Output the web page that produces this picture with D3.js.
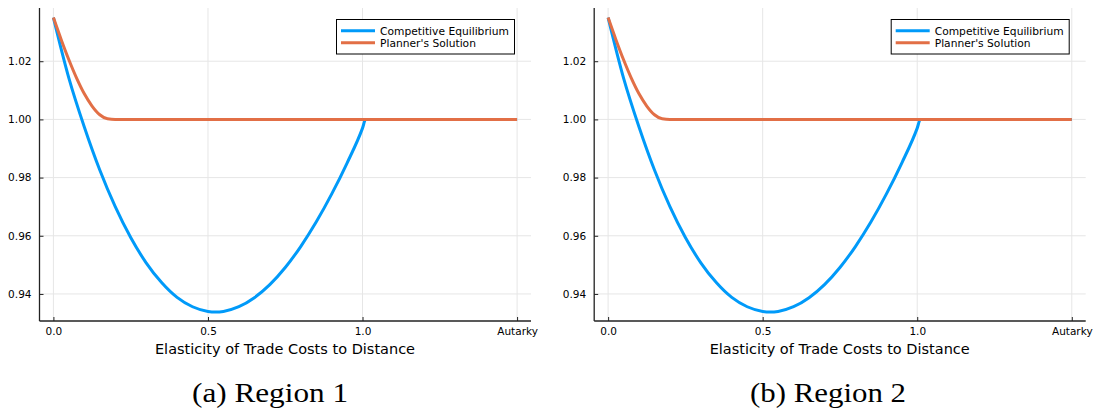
<!DOCTYPE html>
<html>
<head>
<meta charset="utf-8">
<script src="https://cdn.jsdelivr.net/npm/d3@7"></script>
<style>
  body { margin: 0; background: #fff; }
  svg { display: block; }
</style>
</head>
<body>
<svg></svg>
<script>
// elasticity grid (Autarky is placed at 1.5 on the axis)
var elasticity1 = [0, 0.05, 0.1, 0.15, 0.2, 0.25, 0.3, 0.35, 0.4, 0.45, 0.5, 0.524, 0.55, 0.6, 0.65, 0.7, 0.75, 0.8, 0.85, 0.9, 0.95, 1.0, 1.01, 1.5];
var competitive1 = [1.035, 1.0142, 0.9974, 0.9826, 0.9700, 0.9594, 0.9507, 0.9439, 0.9388, 0.9356, 0.9340, 0.9338, 0.9340, 0.9356, 0.9387, 0.9432, 0.9491, 0.9563, 0.9647, 0.9743, 0.9850, 0.9970, 1.0, 1.0];
var elasticity2 = [0, 0.025, 0.05, 0.075, 0.1, 0.125, 0.15, 0.175, 0.2, 1.5];
var planner1 = [1.035, 1.0275, 1.0205, 1.0142, 1.0088, 1.0046, 1.0016, 1.0002, 1.0, 1.0];

var competitive2 = [1.035, 1.0142, 0.9974, 0.9826, 0.9700, 0.9594, 0.9507, 0.9439, 0.9388, 0.9356, 0.9340, 0.9338, 0.9340, 0.9356, 0.9387, 0.9432, 0.9491, 0.9563, 0.9647, 0.9743, 0.9850, 0.9970, 1.0, 1.0];
var planner2 = [1.035, 1.0275, 1.0205, 1.0142, 1.0088, 1.0046, 1.0016, 1.0002, 1.0, 1.0];

var xTicks = [0, 0.5, 1.0, 1.5];
var xTickLabels = ["0.0", "0.5", "1.0", "Autarky"];
var yTicks = [0.94, 0.96, 0.98, 1.00, 1.02];
var seriesNames = ["Competitive Equilibrium", "Planner's Solution"];
var captions = ["(a) Region 1", "(b) Region 2"];

var svg = d3.select("svg")
    .attr("width", 1093)
    .attr("height", 413);

var blue = "#009af9";
var orange = "#e26f46";
var fontSans = "DejaVu Sans";

var x = d3.scaleLinear().domain([-0.045, 1.545]).range([39.5, 531]);
var y = d3.scaleLinear().domain([0.9307, 1.0383]).range([321, 8]);

function drawPanel(offset, ce, ps, caption, capX) {
    var g = svg.append("g").attr("transform", "translate(" + offset + ",0)");

    // grid
    g.append("g").selectAll("line")
        .data(xTicks)
        .enter()
        .append("line")
        .attr("x1", d => x(d)).attr("x2", d => x(d))
        .attr("y1", 8).attr("y2", 321)
        .attr("stroke", "#e6e6e6").attr("stroke-width", 1);
    g.append("g").selectAll("line")
        .data(yTicks)
        .enter()
        .append("line")
        .attr("x1", 39.5).attr("x2", 531)
        .attr("y1", d => y(d)).attr("y2", d => y(d))
        .attr("stroke", "#e6e6e6").attr("stroke-width", 1);

    // axes
    var xAxis = g.append("g")
        .attr("transform", "translate(0,321)")
        .call(d3.axisBottom(x).tickValues(xTicks)
            .tickFormat((d, i) => xTickLabels[i])
            .tickSize(-4).tickSizeOuter(0).tickPadding(7));
    var yAxis = g.append("g")
        .attr("transform", "translate(39.5,0)")
        .call(d3.axisLeft(y).tickValues(yTicks)
            .tickFormat(d3.format(".2f"))
            .tickSize(-4).tickSizeOuter(0).tickPadding(8));
    [xAxis, yAxis].forEach(function(a) {
        a.select(".domain").attr("stroke", "#222").attr("stroke-width", 1.3);
        a.selectAll(".tick line").attr("stroke", "#222");
        a.selectAll(".tick text")
            .attr("font-family", fontSans)
            .attr("font-size", 10.5)
            .attr("fill", "#000");
    });
    yAxis.select(".domain").attr("d", "M0,8V321");
    xAxis.select(".domain").attr("d", "M39.5,0H531");

    // lines
    var line = d3.line()
        .x(d => x(d[0]))
        .y(d => y(d[1]))
        .curve(d3.curveMonotoneX);

    g.append("path")
        .datum(elasticity1.map((e, i) => [e, ce[i]]))
        .attr("d", line)
        .attr("fill", "none")
        .attr("stroke", blue)
        .attr("stroke-width", 3);
    g.append("path")
        .datum(elasticity2.map((e, i) => [e, ps[i]]))
        .attr("d", line)
        .attr("fill", "none")
        .attr("stroke", orange)
        .attr("stroke-width", 3);

    // x label
    g.append("text")
        .attr("x", 285).attr("y", 354)
        .attr("text-anchor", "middle")
        .attr("font-family", fontSans)
        .attr("font-size", 14.5)
        .attr("fill", "#000")
        .text("Elasticity of Trade Costs to Distance");

    // legend
    var leg = g.append("g");
    leg.append("rect")
        .attr("x", 336.5).attr("y", 19.5)
        .attr("width", 178).attr("height", 34.5)
        .attr("fill", "#fff").attr("stroke", "#000").attr("stroke-width", 1);
    var items = leg.selectAll("g.item")
        .data(seriesNames)
        .enter()
        .append("g")
        .attr("class", "item")
        .attr("transform", (d, i) => "translate(0," + (30.7 + i * 12) + ")");
    items.append("line")
        .attr("x1", 341).attr("x2", 375)
        .attr("stroke", (d, i) => i === 0 ? blue : orange)
        .attr("stroke-width", 3);
    items.append("text")
        .attr("x", 380).attr("y", 3.8)
        .attr("font-family", fontSans)
        .attr("font-size", 10.7)
        .attr("fill", "#000")
        .text(d => d);

    // caption
    svg.append("text")
        .attr("x", capX).attr("y", 402)
        .attr("text-anchor", "middle")
        .attr("font-family", "'Liberation Serif', serif")
        .attr("font-size", 27)
        .attr("fill", "#000")
        .attr("textLength", 156)
        .attr("lengthAdjust", "spacingAndGlyphs")
        .text(caption);
}

drawPanel(0, competitive1, planner1, captions[0], 270);
drawPanel(554.7, competitive2, planner2, captions[1], 828);
</script>
</body>
</html>
